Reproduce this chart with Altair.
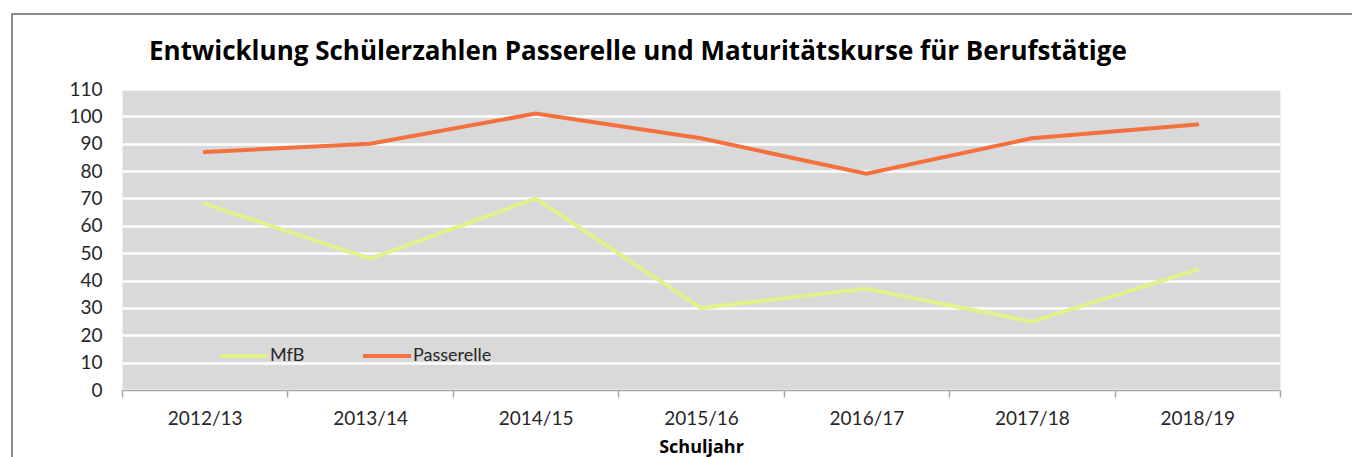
import altair as alt
import pandas as pd

years = ["2012/13", "2013/14", "2014/15", "2015/16", "2016/17", "2017/18", "2018/19"]
mfb = [68, 48, 70, 30, 37, 25, 44]
passerelle = [87, 90, 101, 92, 79, 92, 97]
series_names = ["MfB", "Passerelle"]
series_colors = ["#e3f08c", "#f4703f"]
y_ticks = list(range(0, 111, 10))

rows = []
for i, y in enumerate(years):
    rows.append({"Schuljahr": y, "Serie": "MfB", "Wert": mfb[i]})
    rows.append({"Schuljahr": y, "Serie": "Passerelle", "Wert": passerelle[i]})
df = pd.DataFrame(rows)

W, H = 1158, 301
FONT = "Lato"
TFONT = "Open Sans"

lines = alt.Chart(df).mark_line(strokeWidth=4, strokeCap="round").encode(
    x=alt.X(
        "Schuljahr:N",
        sort=years,
        bandPosition=0.5,
        scale=alt.Scale(type="band", paddingInner=0, paddingOuter=0),
        axis=alt.Axis(
            title="Schuljahr",
            labelAngle=0,
            grid=False,
            ticks=True,
            tickBand="extent",
            tickSize=7,
            tickColor="#a6a6a6",
            tickWidth=1.5,
            domainColor="#a6a6a6",
            domainWidth=1.5,
            labelFont=FONT,
            labelFontSize=19,
            labelColor="#262626",
            labelPadding=12,
            titleFont=TFONT,
            titleFontSize=18,
            titleFontWeight="bold",
            titleColor="#000000",
            titlePadding=10,
        ),
    ),
    y=alt.Y(
        "Wert:Q",
        scale=alt.Scale(domain=[0, 110], nice=False),
        axis=alt.Axis(
            title=None,
            values=y_ticks,
            domain=False,
            ticks=False,
            grid=True,
            gridColor="#ffffff",
            gridWidth=2.5,
            labelFont=FONT,
            labelFontSize=19,
            labelColor="#262626",
            labelPadding=20,
        ),
    ),
    color=alt.Color(
        "Serie:N",
        scale=alt.Scale(domain=series_names, range=series_colors),
        legend=alt.Legend(
            title=None,
            orient="none",
            legendX=92,
            legendY=237,
            direction="horizontal",
            symbolType="stroke",
            symbolStrokeWidth=4,
            symbolSize=2304,
            labelFont=FONT,
            labelFontSize=18,
            labelColor="#262626",
            labelOffset=0,
            columnPadding=50,
            padding=4,
        ),
    ),
)

border = alt.Chart(alt.Data(values=[{"k": 1}])).mark_rect(
    filled=False, fillOpacity=0, stroke="#8c8c8c", strokeWidth=2
).encode(
    x=alt.value(-110),
    x2=alt.value(W + 120),
    y=alt.value(-75),
    y2=alt.value(H + 100),
)

chart = alt.layer(border, lines).properties(
    width=W,
    height=H,
    autosize=alt.AutoSizeParams(type="none"),
    padding={"left": 114, "top": 81, "right": 72, "bottom": 67},
    title=alt.TitleParams(
        "Entwicklung Schülerzahlen Passerelle und Maturitätskurse für Berufstätige",
        anchor="start",
        frame="group",
        dx=27,
        dy=73,
        offset=0,
        baseline="alphabetic",
        font=TFONT,
        fontSize=26,
        fontWeight="bold",
        color="#000000",
    ),
).configure_view(fill="#d9d9d9", strokeOpacity=0)

chart.save("out.html", embed_options={"renderer": "svg", "actions": False})
